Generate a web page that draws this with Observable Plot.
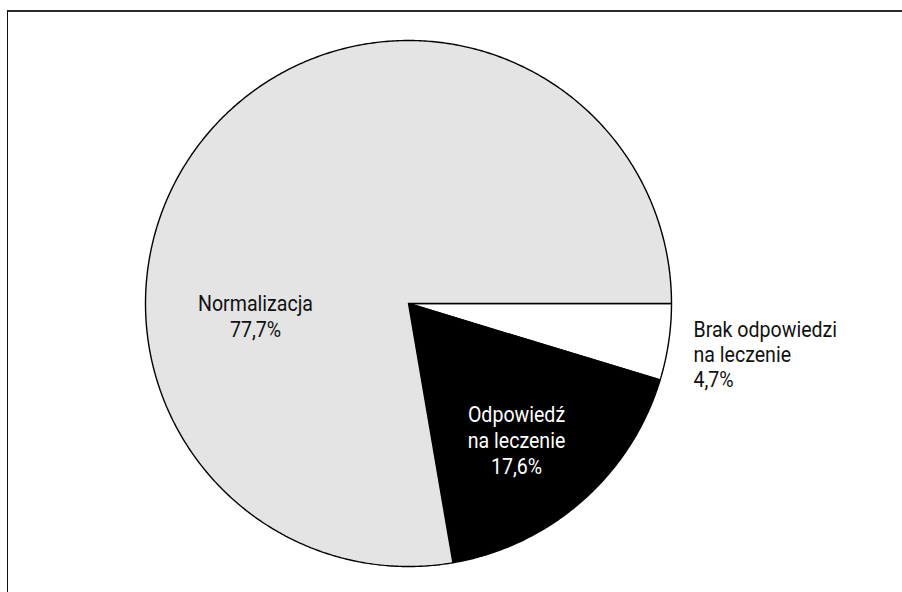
<!DOCTYPE html>
<html><head><meta charset="utf-8">
<script src="https://cdn.jsdelivr.net/npm/d3@7"></script>
<script src="https://cdn.jsdelivr.net/npm/@observablehq/plot@0.6"></script>
<style>
body{margin:0;background:#fff;}
#wrap{position:relative;width:902px;height:592px;overflow:hidden;background:#fff;}
#frame{position:absolute;left:7px;top:10px;width:920px;height:620px;border-top:2px solid #2a2a2a;border-left:1.5px solid #111;box-sizing:border-box;}
#chart{position:absolute;left:0;top:0;}
</style></head><body>
<div id="wrap"><div id="chart"></div><div id="frame"></div></div>
<script>
// Data
const categories = ["Brak odpowiedzi\nna leczenie", "Odpowiedź\nna leczenie", "Normalizacja"];
const values = [4.7, 17.6, 77.7];
const valueLabels = ["4,7%", "17,6%", "77,7%"];
const sliceColors = ["#ffffff", "#000000", "#e4e4e4"];
const textColors = ["#111111", "#ffffff", "#111111"];

// Layout (pixels)
const W = 902, H = 592, cx = 408, cy = 303, R = 263;
const labelLayout = [
  {px: 693, py: 319, anchor: "start"},
  {px: 516, py: 403, anchor: "middle"},
  {px: 255, py: 292, anchor: "middle"}
];

// Build slice polygons (unit circle coords, y up) from the values
const total = d3.sum(values);
const polys = [];
let cum = 0;
values.forEach((v, i) => {
  const a0 = 90 + cum / total * 360;
  const a1 = 90 + (cum + v) / total * 360;
  cum += v;
  polys.push({cat: categories[i], color: sliceColors[i], x: 0, y: 0});
  const n = Math.max(2, Math.ceil((a1 - a0) / 0.5));
  for (let k = 0; k <= n; k++) {
    const a = (a0 + (a1 - a0) * k / n) * Math.PI / 180;
    polys.push({cat: categories[i], color: sliceColors[i], x: Math.sin(a), y: Math.cos(a)});
  }
  polys.push({cat: categories[i], color: sliceColors[i], x: 0, y: 0});
});

const labels = categories.map((c, i) => ({
  text: c + "\n" + valueLabels[i],
  x: (labelLayout[i].px - cx) / R,
  y: (cy - labelLayout[i].py) / R,
  anchor: labelLayout[i].anchor,
  color: textColors[i]
}));

const chart = Plot.plot({
  width: W, height: H,
  marginTop: 0, marginRight: 0, marginBottom: 0, marginLeft: 0,
  style: {background: "transparent", fontFamily: "Roboto, sans-serif"},
  x: {domain: [-cx / R, (W - cx) / R], axis: null},
  y: {domain: [-(H - cy) / R, cy / R], axis: null},
  color: {type: "identity"},
  marks: [
    Plot.line(polys, {x: "x", y: "y", z: "cat", fill: "color", stroke: "#000", strokeWidth: 1.4, strokeLinejoin: "miter", curve: "linear"}),
    Plot.text(labels.filter(d => d.anchor === "middle"), {x: "x", y: "y", text: "text", fill: "color", fontSize: 22.5, textAnchor: "middle", lineAnchor: "top", lineHeight: 1.15}),
    Plot.text(labels.filter(d => d.anchor === "start"), {x: "x", y: "y", text: "text", fill: "color", fontSize: 22.5, textAnchor: "start", lineAnchor: "top", lineHeight: 1.1})
  ]
});
// condense the label glyphs horizontally (condensed typeface look)
chart.querySelectorAll("g[aria-label='text'] text").forEach(t => {
  const tr = t.getAttribute("transform") || "";
  t.setAttribute("transform", tr + " scale(0.87,1)");
});
document.getElementById("chart").appendChild(chart);
</script>
</body></html>
